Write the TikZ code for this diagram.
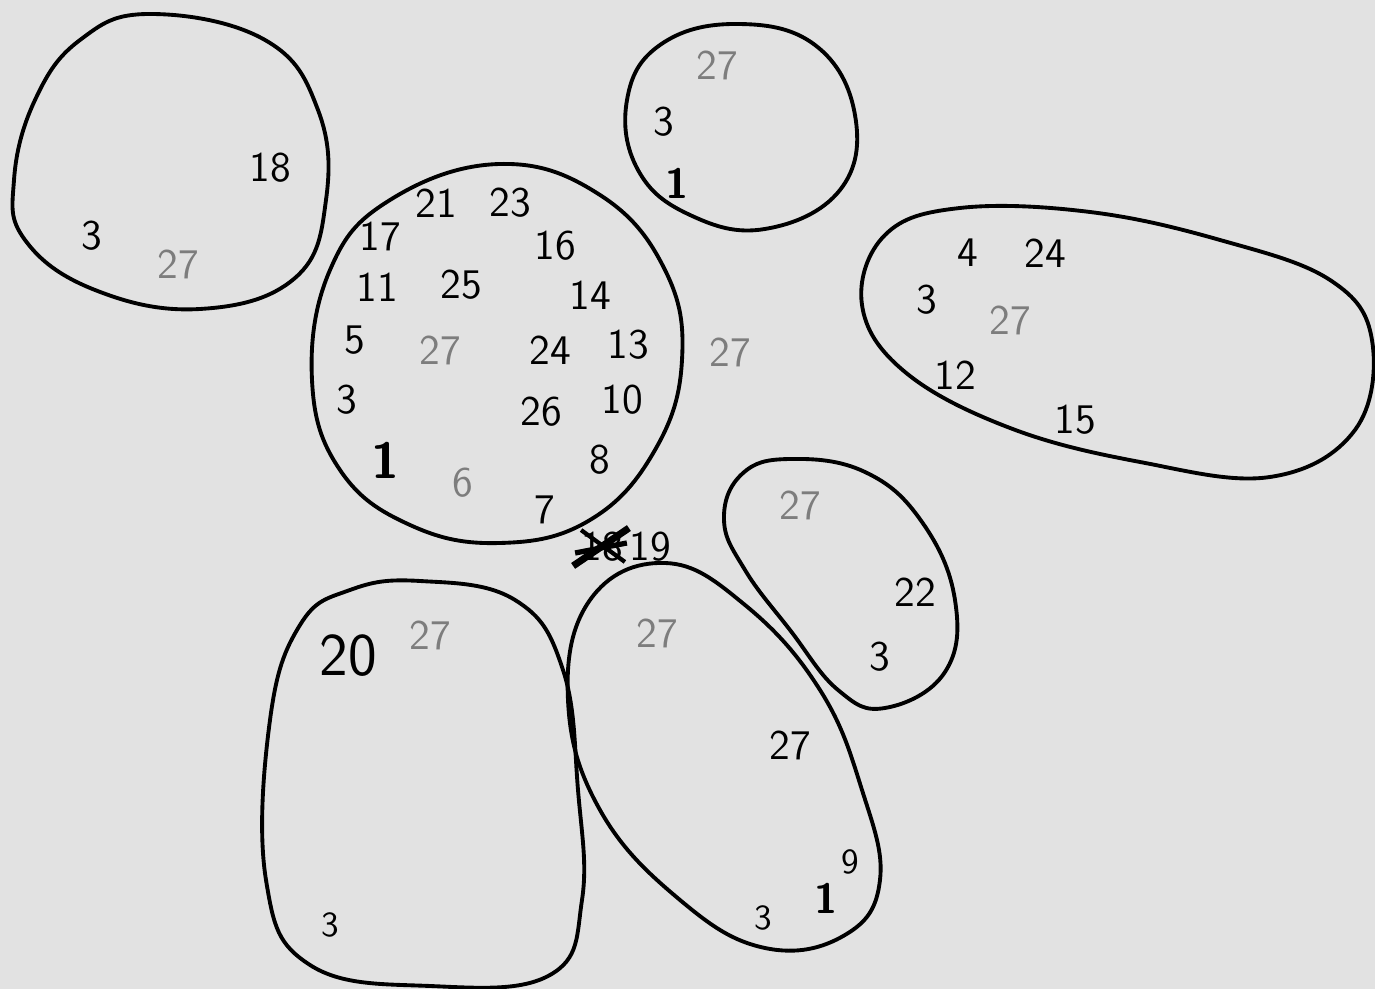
\documentclass[tikz,border=0pt]{standalone}
\usepackage{tikz}
\usetikzlibrary{calc}
\definecolor{paper}{RGB}{226,226,226}
\definecolor{pencil}{RGB}{125,125,125}
\tikzset{
	blob/.style={line width=1.1pt, line join=round},
	num/.style={font=\sffamily\large, inner sep=1pt},
	faint/.style={num, text=pencil},
	big/.style={num, font=\sffamily\LARGE},
	heavy/.style={num, font=\sffamily\Large\bfseries},
	small/.style={num, font=\sffamily\normalsize}
}

\begin{document}
\begin{tikzpicture}[x=0.01cm, y=-0.01cm]
	\fill[paper] (0,0) rectangle (1375,989);
	\useasboundingbox (0,0) rectangle (1375,989);
	% top left group
	\draw[blob] plot[smooth cycle, tension=0.7] coordinates {(150,14) (265,40) (318,110) (326,200) (295,278) (200,309) (95,290) (25,240) (14,180) (35,100) (80,40)};
	\node[num] (tl18) at (270,168) {18};
	\node[num] (tl3) at (92,236) {3};
	\node[faint] (tl27) at (178,264) {27};
	% central circle
	\draw[blob] plot[smooth cycle, tension=0.7] coordinates {(500,164) (600,195) (665,270) (682,360) (655,450) (590,520) (500,543) (410,525) (340,470) (312,380) (330,270) (390,200)};
	\node[num] (c21) at (436,203) {21};
	\node[num] (c23) at (510,203) {23};
	\node[num] (c17) at (380,236) {17};
	\node[num] (c16) at (555,246) {16};
	\node[num] (c11) at (377,287) {11};
	\node[num] (c25) at (461,285) {25};
	\node[num] (c14) at (590,295) {14};
	\node[num] (c5) at (355,340) {5};
	\node[faint] (c27) at (440,350) {27};
	\node[num] (c24) at (550,350) {24};
	\node[num] (c13) at (628,345) {13};
	\node[num] (c3) at (347,400) {3};
	\node[num] (c26) at (541,412) {26};
	\node[num] (c10) at (622,400) {10};
	\node[heavy] (c1) at (385,460) {1};
	\node[faint] (c6) at (463,483) {6};
	\node[num] (c8) at (600,460) {8};
	\node[num] (c7) at (545,510) {7};
	\node[faint] (out27) at (730,352) {27};
	% small circle at the top
	\draw[blob] plot[smooth cycle, tension=0.7] coordinates {(735,24) (815,45) (855,115) (840,190) (765,229) (690,215) (638,170) (627,100) (660,45)};
	\node[faint] (s27) at (717,65) {27};
	\node[num] (s3) at (664,122) {3};
	\node[num, font=\sffamily\large\bfseries] (s1) at (677,183) {1};
	% long group on the right
	\draw[blob] plot[smooth cycle, tension=0.65] coordinates {(960,208) (1090,212) (1220,240) (1330,280) (1372,340) (1355,430) (1270,477) (1140,462) (1010,428) (905,372) (862,305) (885,235)};
	\node[num] (r4) at (968,253) {4};
	\node[num] (r24) at (1045,253) {24};
	\node[num] (r3) at (927,300) {3};
	\node[faint] (r27) at (1010,320) {27};
	\node[num] (r12) at (955,375) {12};
	\node[num] (r15) at (1075,420) {15};
	% crossed out number
	\node[num] (x18) at (602,547) {18};
	\draw[line width=2pt] ($(x18.south west)+(-4,0)$) -- ($(x18.north east)+(2,0)$);
	\draw[line width=1.5pt] ($(x18.west)+(-2,6)$) -- ($(x18.east)+(0,-4)$);
	\draw[line width=1.2pt] ($(x18.north west)+(4,2)$) -- ($(x18.south east)+(-2,-4)$);
	\node[num] (x19) at (650,547) {19};
	% small tilted group
	\draw[blob] plot[smooth cycle, tension=0.7] coordinates {(790,459) (865,472) (922,522) (955,600) (945,672) (885,708) (838,690) (790,630) (745,570) (724,520) (742,474)};
	\node[faint] (m27) at (800,505) {27};
	\node[num] (m22) at (915,592) {22};
	\node[num] (m3) at (880,657) {3};
	% bottom left group
	\draw[blob] plot[smooth cycle, tension=0.7] coordinates {(420,581) (515,600) (563,670) (578,790) (582,900) (550,975) (430,986) (310,965) (266,880) (270,720) (300,625) (350,590)};
	\node[big] (bl20) at (348,656) {20};
	\node[faint] (bl27) at (430,635) {27};
	\node[small] (bl3) at (330,925) {3};
	% bottom middle group
	\draw[blob] plot[smooth cycle, tension=0.7] coordinates {(665,563) (745,605) (820,690) (862,790) (880,880) (845,935) (765,948) (680,900) (600,810) (568,700) (590,600)};
	\node[faint] (b27) at (657,633) {27};
	\node[num] (b27b) at (790,745) {27};
	\node[small] (b9) at (850,862) {9};
	\node[num, font=\sffamily\large\bfseries] (b1) at (826,898) {1};
	\node[small] (b3) at (763,918) {3};
\end{tikzpicture}
\end{document}
